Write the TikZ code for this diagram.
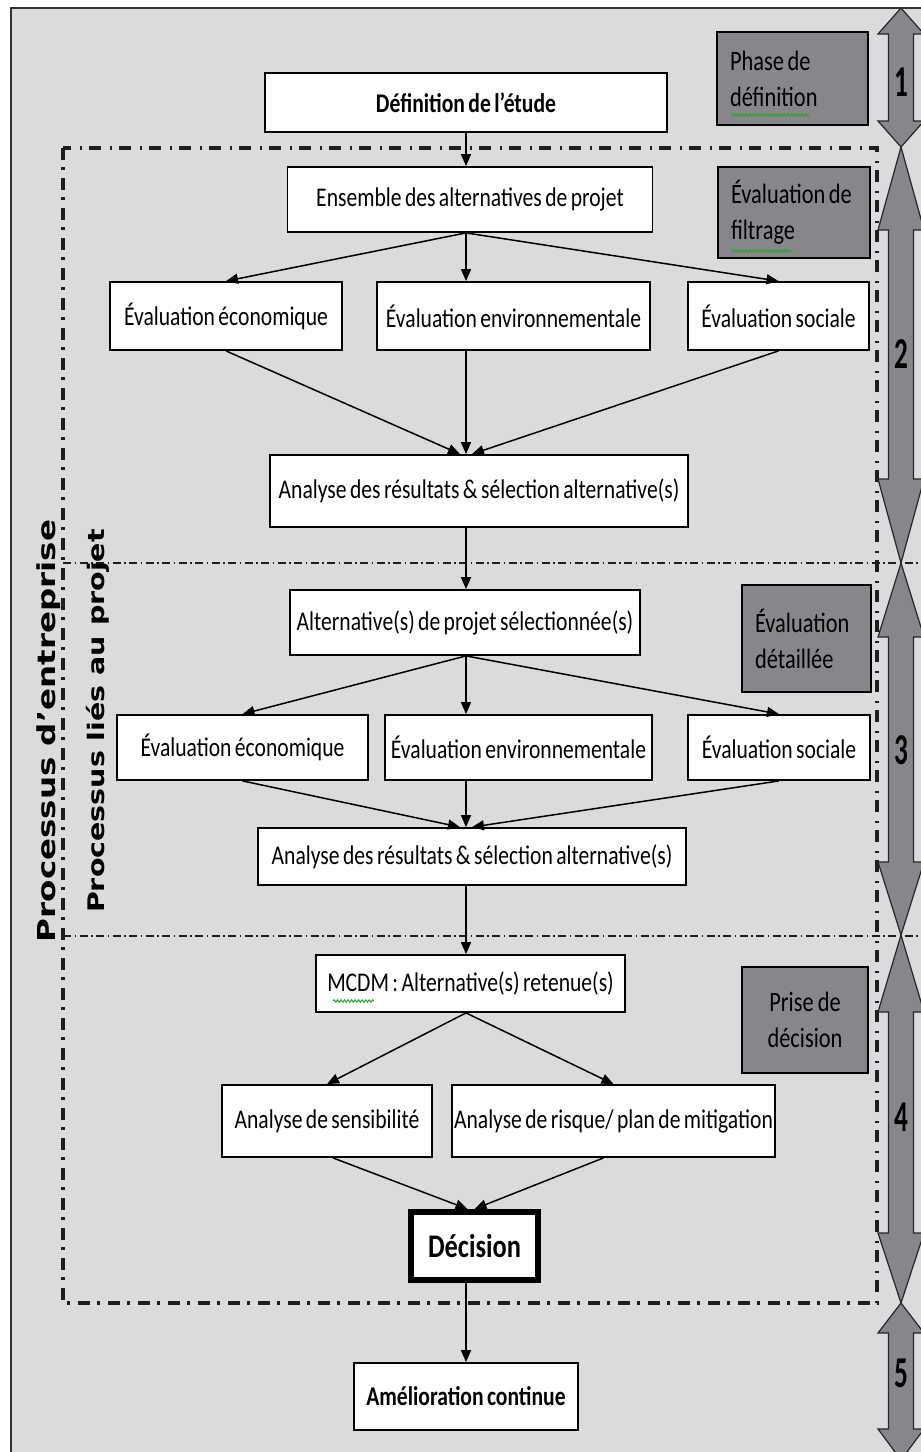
\documentclass[tikz,border=0pt]{standalone}
\usepackage{fontspec}
\usetikzlibrary{arrows.meta,decorations.pathmorphing}
\newfontfamily\narrowfont[FakeStretch=0.8,WordSpace=0.7]{Carlito}
\newfontfamily\digitfont[FakeStretch=0.62]{Carlito}
\newfontfamily\sidefont{DejaVu Sans}
\definecolor{bg}{RGB}{220,218,221}
\definecolor{boxgray}{RGB}{136,134,138}
\definecolor{dashgray}{RGB}{30,30,30}
\definecolor{squiggle}{RGB}{40,165,40}
\newcommand\phasearrow[4]{%
  \filldraw[phasearrow] (901,#1) -- (924,{#1+#3}) -- (913.5,{#1+#3}) -- (913.5,{#2-#4})
    -- (924,{#2-#4}) -- (901,#2) -- (878,{#2-#4}) -- (888.5,{#2-#4})
    -- (888.5,{#1+#3}) -- (878,{#1+#3}) -- cycle;}
\begin{document}
\begin{tikzpicture}[x=1pt,y=-1pt,
  box/.style={draw=black, line width=1.8pt, fill=white, inner sep=0pt,
    font=\narrowfont\fontsize{27}{32}\selectfont, align=center},
  boldbox/.style={box, font=\narrowfont\bfseries\fontsize{27}{32}\selectfont},
  graybox/.style={draw=black, line width=1.8pt, fill=boxgray, inner xsep=13pt, inner ysep=0pt,
    font=\narrowfont\fontsize{28}{36}\selectfont, align=left},
  flow/.style={-{Triangle[length=12pt,width=10pt]}, line width=1.5pt},
  outerdash/.style={line width=3.2pt, draw=dashgray, dash pattern=on 12pt off 7pt on 2.5pt off 8.5pt},
  innerdash/.style={line width=1.7pt, draw=dashgray, dash pattern=on 8pt off 3.5pt on 1.5pt off 3.5pt},
  phasearrow/.style={fill=boxgray, draw=black!85, line width=1.2pt},
  num/.style={font=\digitfont\bfseries\fontsize{44}{44}\selectfont, inner sep=0pt},
  sidetext/.style={font=\sidefont\bfseries, rotate=90, inner sep=0pt},
  squig/.style={draw=squiggle, line width=1pt, decorate,
    decoration={snake, amplitude=1.2pt, segment length=3.5pt}}
]
\clip (0,0) rectangle (921,1452);
\fill[white] (0,0) rectangle (921,1452);
% outer frame
\draw[fill=bg, line width=2pt, draw=black!80] (11,8) rectangle (950,1480);

% process frames
\draw[outerdash] (63,148) rectangle (877,1303);
\draw[innerdash] (63,563) -- (921,563);
\draw[innerdash] (63,936) -- (921,936);

% phase arrows
\phasearrow{8}{147}{26}{26}
\phasearrow{147}{563}{83}{84}
\phasearrow{563}{935}{74}{73}
\phasearrow{935}{1303}{77}{70}
\phasearrow{1303}{1460}{30}{31}
\node[num] (n1) at (901,82) {1};
\node[num] (n2) at (901,354) {2};
\node[num] (n3) at (901,750) {3};
\node[num] (n4) at (901,1117) {4};
\node[num] (n5) at (901,1373) {5};

% side labels
\node[sidetext] (ent) at (49,731) {\fontsize{32.5}{32.5}\selectfont\scalebox{1}[0.76]{Processus d’entreprise}};
\node[sidetext] (proj) at (98,721) {\fontsize{28.5}{28.5}\selectfont\scalebox{1}[0.8]{Processus liés au projet}};

% phase boxes (natural word spacing kept inside the left-aligned text)
\node[graybox, text width=125pt, minimum height=93pt] (g1) at (792.5,78.5) {\spaceskip=0pt\relax Phase de\\définition};
\node[graybox, text width=126pt, minimum height=91pt] (g2) at (794,212.5) {\spaceskip=0pt\relax Évaluation de\\filtrage};
\node[graybox, text width=103pt, minimum height=107pt] (g3) at (806.5,638.5) {\spaceskip=0pt\relax Évaluation\\détaillée};
\node[graybox, text width=100pt, minimum height=106pt, align=center] (g4) at (805,1020) {\spaceskip=0pt\relax Prise de\\décision};

% flow boxes
\node[boldbox, minimum width=402pt, minimum height=59pt] (def) at (466,102.5) {Définition de l’étude};
\node[box, minimum width=365pt, minimum height=65pt] (ens) at (470,199.5) {Ensemble des alternatives de projet};
\node[box, minimum width=232pt, minimum height=68pt] (eco1) at (226,316) {Évaluation économique};
\node[box, minimum width=273pt, minimum height=68pt] (env1) at (513.5,316) {Évaluation environnementale};
\node[box, minimum width=181pt, minimum height=68pt] (soc1) at (778.5,316) {Évaluation sociale};
\node[box, minimum width=418pt, minimum height=72pt] (ana1) at (479,491) {Analyse des résultats \& sélection alternative(s)};
\node[box, minimum width=350pt, minimum height=65pt] (alt) at (465,622.5) {Alternative(s) de projet sélectionnée(s)};
\node[box, minimum width=251pt, minimum height=65pt] (eco2) at (242.5,747.5) {Évaluation économique};
\node[box, minimum width=267pt, minimum height=65pt] (env2) at (518.5,747.5) {Évaluation environnementale};
\node[box, minimum width=182pt, minimum height=65pt] (soc2) at (779,747.5) {Évaluation sociale};
\node[box, minimum width=428pt, minimum height=57pt] (ana2) at (472,856.5) {Analyse des résultats \& sélection alternative(s)};
\node[box, minimum width=309pt, minimum height=57pt] (mcdm) at (470.5,983.5) {MCDM : Alternative(s) retenue(s)};
\node[box, minimum width=210pt, minimum height=72pt] (sens) at (327,1121) {Analyse de sensibilité};
\node[box, minimum width=323pt, minimum height=72pt] (risk) at (613.5,1121) {Analyse de risque/ plan de mitigation};
\node[box, line width=6pt, minimum width=127pt, minimum height=68pt,
  font=\narrowfont\bfseries\fontsize{33}{36}\selectfont] (dec) at (474.5,1246) {Décision};
\node[boldbox, minimum width=224pt, minimum height=67pt] (amel) at (466,1396.5) {Amélioration continue};

% spell-check marks
\draw[squig] (731,115) -- (810,115);
\draw[squig] (731,251) -- (792,251);
\draw[squig] (333,1001) -- (374,1001);

% connectors
\draw[flow] (def.south) -- (def.south |- ens.north);
\draw[flow] (def.south |- ens.south) -- (eco1.north);
\draw[flow] (def.south |- ens.south) -- (def.south |- env1.north);
\draw[flow] (def.south |- ens.south) -- (soc1.north);
\draw[flow] (eco1.south) -- ([xshift=-6pt]def.south |- ana1.north);
\draw[flow] (def.south |- env1.south) -- (def.south |- ana1.north);
\draw[flow] (soc1.south) -- ([xshift=6pt]def.south |- ana1.north);
\draw[flow] (def.south |- ana1.south) -- (def.south |- alt.north);
\draw[flow] (def.south |- alt.south) -- (eco2.north);
\draw[flow] (def.south |- alt.south) -- (def.south |- env2.north);
\draw[flow] (def.south |- alt.south) -- (soc2.north);
\draw[flow] (eco2.south) -- ([xshift=-6pt]def.south |- ana2.north);
\draw[flow] (def.south |- env2.south) -- (def.south |- ana2.north);
\draw[flow] (soc2.south) -- ([xshift=6pt]def.south |- ana2.north);
\draw[flow] (def.south |- ana2.south) -- (def.south |- mcdm.north);
\draw[flow] (def.south |- mcdm.south) -- (sens.north);
\draw[flow] (def.south |- mcdm.south) -- (risk.north);
\draw[flow] ([xshift=6pt]sens.south) -- ([xshift=-7pt]dec.north);
\draw[flow] ([xshift=-10pt]risk.south) -- ([xshift=0pt]dec.north);
\draw[flow] (dec.south -| amel.north) -- (amel.north);
\end{tikzpicture}
\end{document}
